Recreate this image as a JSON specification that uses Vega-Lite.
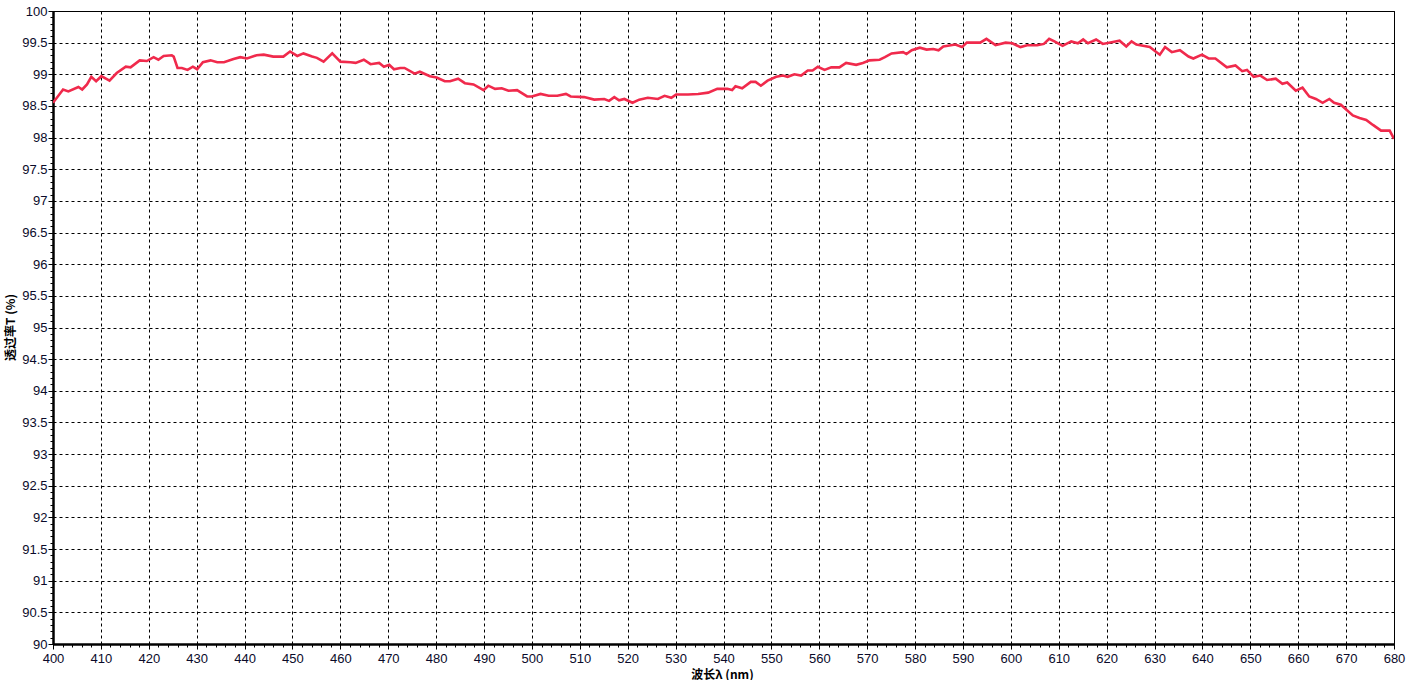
{
  "$schema": "https://vega.github.io/schema/vega-lite/v6.json",
  "autosize": {"type": "none"},
  "padding": {"left": 53, "top": 11, "right": 26, "bottom": 36},
  "width": 1341,
  "height": 633,
  "background": "white",
  "config": {"view": {"stroke": "black", "strokeWidth": 1}},
  "data": {"values": [
    {"w": 400, "t": 98.55}, {"w": 402.1, "t": 98.76}, {"w": 403.2, "t": 98.73}, {"w": 405.3, "t": 98.80}, {"w": 406.1, "t": 98.76},
    {"w": 407.1, "t": 98.84}, {"w": 408.0, "t": 98.96}, {"w": 409.0, "t": 98.89}, {"w": 410.1, "t": 98.97}, {"w": 411.8, "t": 98.90},
    {"w": 413.3, "t": 99.02}, {"w": 415.2, "t": 99.12}, {"w": 416.2, "t": 99.11}, {"w": 418.1, "t": 99.22}, {"w": 419.6, "t": 99.21},
    {"w": 421.0, "t": 99.27}, {"w": 422.0, "t": 99.23}, {"w": 423.1, "t": 99.29}, {"w": 424.8, "t": 99.30}, {"w": 425.2, "t": 99.28},
    {"w": 426.0, "t": 99.10}, {"w": 426.9, "t": 99.10}, {"w": 428.1, "t": 99.07}, {"w": 429.2, "t": 99.12}, {"w": 430.1, "t": 99.08},
    {"w": 431.3, "t": 99.19}, {"w": 432.9, "t": 99.22}, {"w": 434.3, "t": 99.19}, {"w": 435.7, "t": 99.19}, {"w": 437.7, "t": 99.24},
    {"w": 439.1, "t": 99.27}, {"w": 440.5, "t": 99.25}, {"w": 442.5, "t": 99.30}, {"w": 444.0, "t": 99.31}, {"w": 446.0, "t": 99.28},
    {"w": 448.1, "t": 99.28}, {"w": 449.5, "t": 99.36}, {"w": 451.0, "t": 99.29}, {"w": 452.3, "t": 99.33}, {"w": 454.1, "t": 99.28},
    {"w": 455.1, "t": 99.26}, {"w": 456.5, "t": 99.20}, {"w": 458.3, "t": 99.33}, {"w": 460.0, "t": 99.20}, {"w": 462.1, "t": 99.19},
    {"w": 463.2, "t": 99.18}, {"w": 464.9, "t": 99.23}, {"w": 466.3, "t": 99.16}, {"w": 468.1, "t": 99.18}, {"w": 469.1, "t": 99.12},
    {"w": 470.2, "t": 99.15}, {"w": 471.2, "t": 99.08}, {"w": 472.5, "t": 99.10}, {"w": 473.4, "t": 99.10}, {"w": 475.5, "t": 99.01},
    {"w": 476.6, "t": 99.04}, {"w": 478.7, "t": 98.97}, {"w": 480.1, "t": 98.95}, {"w": 481.8, "t": 98.89}, {"w": 482.9, "t": 98.89},
    {"w": 484.6, "t": 98.93}, {"w": 486.0, "t": 98.86}, {"w": 487.8, "t": 98.84}, {"w": 489.9, "t": 98.75}, {"w": 490.9, "t": 98.82},
    {"w": 492.3, "t": 98.77}, {"w": 493.7, "t": 98.78}, {"w": 495.1, "t": 98.74}, {"w": 496.9, "t": 98.75}, {"w": 499.0, "t": 98.65},
    {"w": 500.0, "t": 98.65}, {"w": 501.8, "t": 98.69}, {"w": 503.5, "t": 98.66}, {"w": 505.3, "t": 98.66}, {"w": 507.1, "t": 98.69},
    {"w": 508.1, "t": 98.65}, {"w": 510.9, "t": 98.64}, {"w": 513.0, "t": 98.60}, {"w": 515.1, "t": 98.61}, {"w": 516.1, "t": 98.58},
    {"w": 517.2, "t": 98.64}, {"w": 518.2, "t": 98.59}, {"w": 519.3, "t": 98.61}, {"w": 521.0, "t": 98.55}, {"w": 522.4, "t": 98.60},
    {"w": 524.2, "t": 98.63}, {"w": 526.3, "t": 98.61}, {"w": 527.7, "t": 98.66}, {"w": 529.1, "t": 98.63}, {"w": 530.1, "t": 98.68},
    {"w": 532.6, "t": 98.68}, {"w": 534.7, "t": 98.69}, {"w": 536.8, "t": 98.71}, {"w": 538.7, "t": 98.77}, {"w": 540.8, "t": 98.77},
    {"w": 541.8, "t": 98.75}, {"w": 542.5, "t": 98.81}, {"w": 543.9, "t": 98.78}, {"w": 545.7, "t": 98.88}, {"w": 546.7, "t": 98.88},
    {"w": 547.8, "t": 98.82}, {"w": 549.2, "t": 98.90}, {"w": 551.0, "t": 98.96}, {"w": 552.4, "t": 98.98}, {"w": 553.4, "t": 98.96},
    {"w": 554.8, "t": 99.00}, {"w": 556.2, "t": 98.98}, {"w": 557.6, "t": 99.06}, {"w": 558.6, "t": 99.06}, {"w": 559.7, "t": 99.12},
    {"w": 561.1, "t": 99.07}, {"w": 562.5, "t": 99.11}, {"w": 564.2, "t": 99.11}, {"w": 565.6, "t": 99.18}, {"w": 567.7, "t": 99.15},
    {"w": 569.1, "t": 99.18}, {"w": 570.5, "t": 99.22}, {"w": 572.6, "t": 99.23}, {"w": 573.7, "t": 99.27}, {"w": 575.1, "t": 99.33},
    {"w": 577.5, "t": 99.35}, {"w": 578.2, "t": 99.32}, {"w": 579.3, "t": 99.38}, {"w": 581.0, "t": 99.42}, {"w": 582.4, "t": 99.39},
    {"w": 583.8, "t": 99.40}, {"w": 584.9, "t": 99.38}, {"w": 585.9, "t": 99.44}, {"w": 588.4, "t": 99.47}, {"w": 589.8, "t": 99.43},
    {"w": 590.8, "t": 99.50}, {"w": 593.6, "t": 99.50}, {"w": 594.9, "t": 99.56}, {"w": 596.8, "t": 99.46}, {"w": 598.9, "t": 99.50},
    {"w": 600.3, "t": 99.49}, {"w": 602.0, "t": 99.43}, {"w": 603.4, "t": 99.46}, {"w": 605.5, "t": 99.46}, {"w": 606.9, "t": 99.48},
    {"w": 608.0, "t": 99.56}, {"w": 609.1, "t": 99.52}, {"w": 610.8, "t": 99.45}, {"w": 612.6, "t": 99.52}, {"w": 614.0, "t": 99.49},
    {"w": 615.1, "t": 99.55}, {"w": 616.1, "t": 99.49}, {"w": 617.8, "t": 99.55}, {"w": 619.2, "t": 99.48}, {"w": 621.3, "t": 99.51},
    {"w": 622.7, "t": 99.53}, {"w": 624.1, "t": 99.44}, {"w": 625.2, "t": 99.52}, {"w": 626.2, "t": 99.47}, {"w": 627.6, "t": 99.45},
    {"w": 629.0, "t": 99.43}, {"w": 631.1, "t": 99.31}, {"w": 632.2, "t": 99.43}, {"w": 633.6, "t": 99.35}, {"w": 635.3, "t": 99.38},
    {"w": 637.1, "t": 99.28}, {"w": 638.1, "t": 99.25}, {"w": 639.9, "t": 99.31}, {"w": 641.3, "t": 99.25}, {"w": 642.7, "t": 99.25},
    {"w": 645.1, "t": 99.11}, {"w": 646.9, "t": 99.14}, {"w": 648.3, "t": 99.05}, {"w": 649.3, "t": 99.07}, {"w": 650.7, "t": 98.96},
    {"w": 652.1, "t": 98.98}, {"w": 653.5, "t": 98.91}, {"w": 655.3, "t": 98.93}, {"w": 656.7, "t": 98.85}, {"w": 657.7, "t": 98.87},
    {"w": 659.5, "t": 98.74}, {"w": 660.9, "t": 98.79}, {"w": 662.3, "t": 98.65}, {"w": 663.7, "t": 98.61}, {"w": 665.1, "t": 98.55},
    {"w": 666.5, "t": 98.61}, {"w": 667.5, "t": 98.55}, {"w": 668.9, "t": 98.52}, {"w": 671.4, "t": 98.35}, {"w": 672.8, "t": 98.31},
    {"w": 674.2, "t": 98.28}, {"w": 675.6, "t": 98.20}, {"w": 677.3, "t": 98.11}, {"w": 679.1, "t": 98.11}, {"w": 680.0, "t": 97.98}
  ]},
  "mark": {"type": "line", "color": "#F02A4C", "strokeWidth": 2.6, "clip": true},
  "encoding": {
    "x": {
      "field": "w", "type": "quantitative",
      "scale": {"domain": [400, 680], "nice": false, "zero": false},
      "axis": {
        "title": "波长λ (nm)",
        "titleFont": "Noto Sans CJK SC", "titleFontSize": 12, "titleFontWeight": "bold", "titleColor": "black",
        "titleX": 669, "titleY": 30, "titleBaseline": "middle", "titleAnchor": null,
        "values": [400,402,404,406,408,410,412,414,416,418,420,422,424,426,428,430,432,434,436,438,440,442,444,446,448,450,452,454,456,458,460,462,464,466,468,470,472,474,476,478,480,482,484,486,488,490,492,494,496,498,500,502,504,506,508,510,512,514,516,518,520,522,524,526,528,530,532,534,536,538,540,542,544,546,548,550,552,554,556,558,560,562,564,566,568,570,572,574,576,578,580,582,584,586,588,590,592,594,596,598,600,602,604,606,608,610,612,614,616,618,620,622,624,626,628,630,632,634,636,638,640,642,644,646,648,650,652,654,656,658,660,662,664,666,668,670,672,674,676,678,680],
        "labelExpr": "datum.value % 10 === 0 ? '' + datum.value : ''",
        "labelFont": "Liberation Sans", "labelFontSize": 13, "labelColor": "#0a0a2a",
        "labelOverlap": false, "labelPadding": 3, "labelFlush": false,
        "domainColor": "black", "domainWidth": 2.5,
        "tickColor": "black", "tickWidth": 1,
        "tickSize": {"condition": {"test": "datum.value % 10 === 0", "value": 5}, "value": 3},
        "grid": true, "gridColor": "black", "gridDash": [3, 3], "gridWidth": 1,
        "gridOpacity": {"condition": {"test": "datum.value % 10 === 0", "value": 1}, "value": 0}
      }
    },
    "y": {
      "field": "t", "type": "quantitative",
      "scale": {"domain": [90, 100], "nice": false, "zero": false},
      "axis": {
        "title": "透过率T (%)",
        "titleFont": "Noto Sans CJK SC", "titleFontSize": 12, "titleFontWeight": "bold", "titleColor": "black",
        "titleAngle": -90, "titleX": -43, "titleY": 316, "titleBaseline": "middle", "titleAlign": "center", "titleAnchor": null,
        "values": [90,90.1,90.2,90.3,90.4,90.5,90.6,90.7,90.8,90.9,91,91.1,91.2,91.3,91.4,91.5,91.6,91.7,91.8,91.9,92,92.1,92.2,92.3,92.4,92.5,92.6,92.7,92.8,92.9,93,93.1,93.2,93.3,93.4,93.5,93.6,93.7,93.8,93.9,94,94.1,94.2,94.3,94.4,94.5,94.6,94.7,94.8,94.9,95,95.1,95.2,95.3,95.4,95.5,95.6,95.7,95.8,95.9,96,96.1,96.2,96.3,96.4,96.5,96.6,96.7,96.8,96.9,97,97.1,97.2,97.3,97.4,97.5,97.6,97.7,97.8,97.9,98,98.1,98.2,98.3,98.4,98.5,98.6,98.7,98.8,98.9,99,99.1,99.2,99.3,99.4,99.5,99.6,99.7,99.8,99.9,100],
        "labelExpr": "abs(datum.value * 2 - round(datum.value * 2)) < 0.001 ? '' + round(datum.value * 10) / 10 : ''",
        "labelFont": "Liberation Sans", "labelFontSize": 13, "labelColor": "#0a0a2a",
        "labelOverlap": false, "labelPadding": 1, "labelFlush": false,
        "domainColor": "black", "domainWidth": 2.5,
        "tickColor": "black", "tickWidth": 1,
        "tickSize": {"condition": {"test": "abs(datum.value * 2 - round(datum.value * 2)) < 0.001", "value": 5}, "value": 3},
        "grid": true, "gridColor": "black", "gridDash": [3, 3], "gridWidth": 1,
        "gridOpacity": {"condition": {"test": "abs(datum.value * 2 - round(datum.value * 2)) < 0.001", "value": 1}, "value": 0}
      }
    }
  }
}
